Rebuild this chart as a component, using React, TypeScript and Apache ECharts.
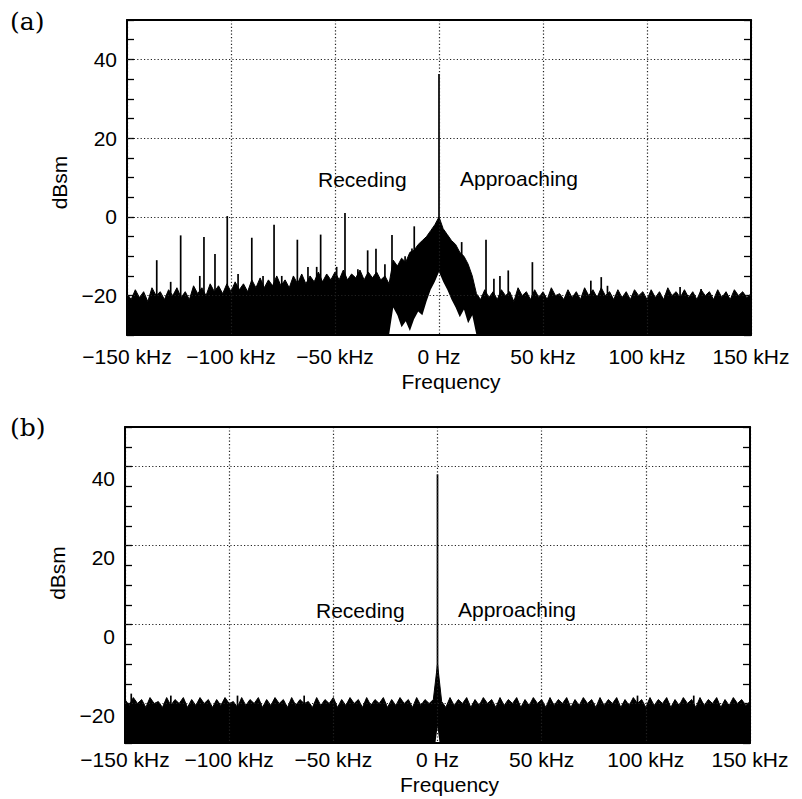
import React, { useEffect, useRef } from 'react';
import * as echarts from 'echarts';

// Frequency sampling grid (kHz) used for the noise envelopes
const FREQ_START = -150;
const FREQ_STEP = 2;
const FREQ = Array.from({ length: 151 }, (_, i) => FREQ_START + FREQ_STEP * i);

// Panel (a): upper envelope of the spectrum (dBsm), one value per FREQ sample
const UPPER_A = [
  -19.5, -21, -18.5, -20.5, -19, -21.5, -18, -20, -19, -21,
  -18.5, -20, -18, -20.5, -19, -21, -17.5, -19.5, -18, -20,
  -17, -19, -17.5, -19.5, -17, -19, -16.5, -18.5, -17, -19,
  -16, -18, -15.5, -18, -16, -17.5, -15, -17.5, -16, -18,
  -15, -17, -14.5, -17, -15, -16.5, -14, -16.5, -14.5, -16,
  -14, -16, -13.5, -16, -14.5, -15.5, -13.5, -16, -14, -15.5,
  -14, -16, -15, -17, -11, -12.5, -10.5, -11.5, -9, -8.5,
  -7, -6, -5, -3.5, -2, 0, -3, -4.5, -6, -7,
  -9, -10, -12, -15, -19.5, -21, -18.5, -20.5, -19, -21,
  -18.5, -20, -19, -21.5, -18, -20, -19, -21, -18.5, -20.5,
  -19, -21, -18, -20, -19.5, -21, -18.5, -20.5, -19, -21,
  -18, -20, -18.5, -20.5, -18, -20, -19, -21, -18.5, -20.5,
  -19, -21, -18.5, -20, -19, -21, -18.5, -20.5, -19, -21,
  -18, -20, -19, -20.5, -18.5, -20.5, -19, -21, -18.5, -20,
  -19, -21, -18.5, -20.5, -19, -21, -18.5, -20, -19, -20.5,
  -19.5,
];
// Panel (a): lower edge of the black band near 0 Hz (white region below it)
const LOWER_A_FREQ = [-24, -22, -20, -18, -16, -14, -12, -10, -8, -6, -4, -2, 0, 2, 4, 6, 8, 10, 12, 14, 16, 18];
const LOWER_A_VALUE = [-30, -23, -25, -28, -26.5, -29, -26, -24, -25, -21.5, -18.5, -16.5, -14, -16.5, -18.5, -21, -23, -25.5, -23.5, -27, -25, -30];
// Panel (a): discrete spectral lines [frequency kHz, peak dBsm]
const SPIKES_A = [
  [-135.7, -11], [-129, -16.5], [-124.2, -4.7], [-115, -15], [-113, -5.1], [-107.7, -9.4],
  [-101.8, 0.2], [-96.6, -14.5], [-90, -5.3], [-84.6, -15], [-79.3, -2], [-75.6, -15],
  [-68.1, -5.8], [-63, -12.7], [-58.8, -12.7], [-56.9, -4.5], [-49.2, -12.7], [-45.2, 1],
  [-39, -13.3], [-34.3, -8.5], [-30.3, -8.1], [-26, -12], [-22.6, -4.6], [-16.3, -10],
  [-13, -8], [-11.9, -2.4], [0, 36.3], [10.9, -6.4], [22.6, -5.8], [26.4, -15.7],
  [29.3, -15], [33.3, -13.6], [44.9, -11.5], [73, -16.2], [78, -15.3], [81, -17.5],
  [115.9, -17.8], [126, -18.3],
];

// Panel (b)
const UPPER_B = [
  -19, -20.5, -18.5, -20, -19, -21, -18.5, -20, -19.5, -21,
  -18.5, -20.5, -19, -20, -18.5, -21, -19, -20.5, -18.5, -20,
  -19, -21, -19, -20.5, -18.5, -20, -19.5, -21, -18.5, -20.5,
  -19, -20, -18.5, -21, -19, -20.5, -18.5, -20, -19, -21,
  -18.5, -20.5, -19, -20, -19.5, -21, -18.5, -20.5, -19, -20,
  -18.5, -21, -19, -20.5, -18.5, -20, -19, -21, -18.5, -20.5,
  -19, -20, -18.5, -21, -19, -20.5, -18.5, -20, -19, -21,
  -18.5, -20.5, -19, -20, -19, -10, -19.5, -21, -18.5, -20.5,
  -19, -20, -18.5, -21, -19, -20.5, -18.5, -20, -19, -21,
  -18.5, -20.5, -19, -20, -18.5, -21, -19, -20.5, -18.5, -20,
  -19, -21, -18.5, -20.5, -19, -20, -18.5, -21, -19, -20.5,
  -18.5, -20, -19, -21, -18.5, -20.5, -19, -20, -18.5, -21,
  -19, -20.5, -18.5, -20, -19, -21, -18.5, -20.5, -19, -20,
  -18.5, -21, -19, -20.5, -18.5, -20, -19, -21, -18.5, -20.5,
  -19, -20, -18.5, -21, -19, -20.5, -18.5, -20, -19, -20.5,
  -19.5,
];
const LOWER_B_FREQ = [-1, 0, 1];
const LOWER_B_VALUE = [-30, -26, -30];
const SPIKES_B = [[0, 38], [-147, -17.5], [-128, -18], [-96, -18], [-64, -18], [96, -18], [123, -18]];

// Axes
const X_MIN = -150;
const X_MAX = 150;
const X_STEP = 50;
const Y_MIN = -30;
const Y_MAX = 50;
const Y_TICK_STEP = 5;
const Y_LABELS = [-20, 0, 20, 40];
const SPIKE_BASE = -21.5;

const FONT = 'Liberation Sans, Arial, Helvetica, sans-serif';
const FS = 21;
const DOT = { color: '#222', width: 1.2, type: [1.2, 2.2] as number[] };

const fmtNum = (v: number) => (v < 0 ? '\u2212' + -v : String(v));

function panel(k: number, upper: number[], lowerF: number[], lowerV: number[], spikes: number[][]) {
  const xAxes = [
    {
      gridIndex: k, type: 'value', min: X_MIN, max: X_MAX, interval: X_STEP, position: 'bottom', z: 10,
      axisLine: { show: true, onZero: false, lineStyle: { color: '#000', width: 2 } },
      axisTick: { show: false },
      axisLabel: {
        color: '#000', fontSize: FS, fontFamily: FONT, margin: k === 0 ? 11 : 6,
        formatter: (v: number) => (v === 0 ? '0 Hz' : fmtNum(v) + ' kHz'),
      },
      splitLine: { show: true, lineStyle: DOT },
      name: 'Frequency', nameLocation: 'middle', nameGap: k === 0 ? 36 : 31,
      nameTextStyle: { color: '#000', fontSize: FS, fontFamily: FONT, padding: [0, 0, 0, 24] },
    },
    {
      gridIndex: k, type: 'value', min: X_MIN, max: X_MAX, position: 'top', z: 10,
      axisLine: { show: true, onZero: false, lineStyle: { color: '#000', width: 2 } },
      axisTick: { show: false }, axisLabel: { show: false }, splitLine: { show: false },
    },
  ];
  const yAxes = [
    {
      gridIndex: k, type: 'value', min: Y_MIN, max: Y_MAX, interval: Y_TICK_STEP, position: 'left', z: 10,
      axisLine: { show: true, onZero: false, lineStyle: { color: '#000', width: 2 } },
      axisTick: { show: true, inside: true, length: 7, lineStyle: { color: '#000', width: 1.3 } },
      axisLabel: k === 0
        ? {
          color: '#000', fontSize: FS, fontFamily: FONT, margin: 10,
          formatter: (v: number) => (Y_LABELS.includes(v) ? fmtNum(v) : ''),
        }
        : {
          color: '#000', fontSize: FS, fontFamily: FONT, margin: 10,
          verticalAlign: 'top', lineHeight: 24,
          formatter: (v: number) => (Y_LABELS.includes(v) ? fmtNum(v) : ''),
        },
      splitLine: { show: false },
      name: 'dBsm', nameLocation: 'middle', nameGap: 48, nameRotate: 90,
      nameTextStyle: { color: '#000', fontSize: FS, fontFamily: FONT, padding: k === 0 ? [0, 10, 0, 0] : [0, 0, 0, 24] },
    },
    {
      gridIndex: k, type: 'value', min: Y_MIN, max: Y_MAX, interval: Y_TICK_STEP, position: 'right', z: 10,
      axisLine: { show: true, onZero: false, lineStyle: { color: '#000', width: 2 } },
      axisTick: { show: true, inside: true, length: 7, lineStyle: { color: '#000', width: 1.3 } },
      axisLabel: { show: false }, splitLine: { show: false },
    },
  ];
  const series = [
    {
      type: 'line', xAxisIndex: 2 * k, yAxisIndex: 2 * k,
      data: FREQ.map((f, i) => [f, upper[i]]), symbol: 'none', silent: true, z: 2,
      lineStyle: { color: '#000', width: 1 },
      areaStyle: { color: '#000', opacity: 1, origin: 'start' },
      markLine: {
        silent: true, symbol: ['none', 'none'], label: { show: false }, z: 11,
        lineStyle: DOT, data: Y_LABELS.map((v) => ({ yAxis: v })),
      },
    },
    {
      type: 'custom', xAxisIndex: 2 * k, yAxisIndex: 2 * k, data: spikes, z: 3, silent: true,
      renderItem: (params: any, api: any) => {
        const x = api.value(0);
        const y = api.value(1);
        const p0 = api.coord([x, SPIKE_BASE]);
        const p1 = api.coord([x, y]);
        return {
          type: 'line',
          shape: { x1: p0[0], y1: p0[1], x2: p1[0], y2: p1[1] },
          style: { stroke: '#000', lineWidth: 1.7 },
        };
      },
    },
    {
      type: 'line', xAxisIndex: 2 * k, yAxisIndex: 2 * k,
      data: lowerF.map((f, i) => [f, lowerV[i]]), symbol: 'none', silent: true, z: 4,
      lineStyle: { width: 0, opacity: 0 },
      areaStyle: { color: '#fff', opacity: 1, origin: 'start' },
    },
  ];
  return { xAxes, yAxes, series };
}

export default function App() {
  const ref = useRef<HTMLDivElement>(null);
  useEffect(() => {
    if (!ref.current) return;
    const chart = echarts.init(ref.current, null, { renderer: 'svg' });
    const a = panel(0, UPPER_A, LOWER_A_FREQ, LOWER_A_VALUE, SPIKES_A);
    const b = panel(1, UPPER_B, LOWER_B_FREQ, LOWER_B_VALUE, SPIKES_B);
    const txt = (x: number, y: number, s: string, extra: any = {}) => ({
      type: 'text', x, y, z: 100,
      style: { text: s, fill: '#000', font: `${FS}px ${FONT}`, textVerticalAlign: 'middle', ...extra },
      silent: true,
    });
    chart.setOption({
      animation: false,
      backgroundColor: '#fff',
      grid: [
        { left: 127, top: 20, width: 624, height: 315 },
        { left: 125, top: 427, width: 625, height: 316 },
      ],
      xAxis: [...a.xAxes, ...b.xAxes],
      yAxis: [...a.yAxes, ...b.yAxes],
      series: [...a.series, ...b.series],
      graphic: [
        txt(10, 21, '(a)', { font: '25px "DejaVu Serif", "Liberation Serif", serif' }),
        txt(10, 427, '(b)', { font: '25px "DejaVu Serif", "Liberation Serif", serif' }),
        txt(318, 179, 'Receding'),
        txt(460, 178, 'Approaching'),
        txt(316, 610, 'Receding'),
        txt(458, 609, 'Approaching'),
      ],
    });
    return () => chart.dispose();
  }, []);
  return <div ref={ref} style={{ position: 'fixed', left: 0, top: 0, width: 802, height: 799, background: '#fff' }} />;
}
